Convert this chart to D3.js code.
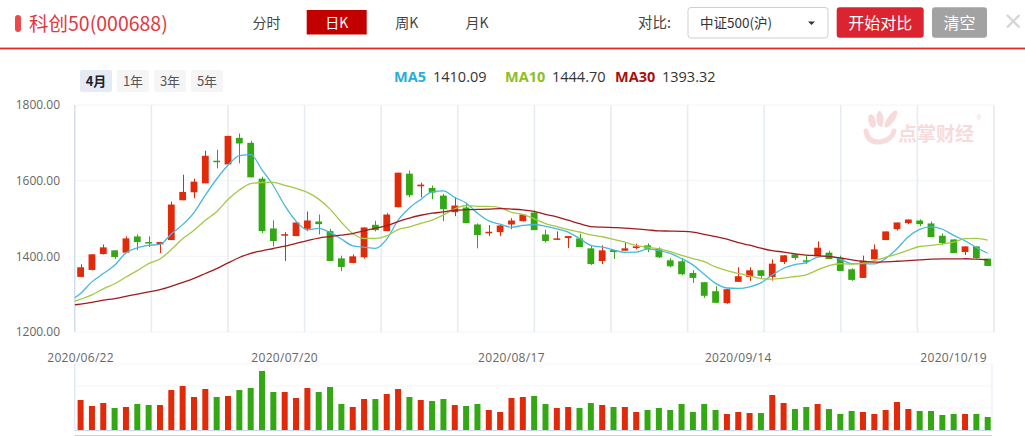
<!DOCTYPE html>
<html><head><meta charset="utf-8">
<script src="https://cdn.jsdelivr.net/npm/d3@7"></script>
<style>
html,body{margin:0;padding:0;background:#fff;overflow:hidden;}
svg{display:block;font-family:"Open Sans","Noto Sans CJK SC",sans-serif;}
.cjk{font-family:"Noto Sans CJK SC","Open Sans",sans-serif;}
</style></head><body>
<svg id="c" width="1025" height="436"></svg>
<script>
// ---------------- DATA ----------------
const dates = [
"2020/06/22","2020/06/23","2020/06/24","2020/06/29","2020/06/30",
"2020/07/01","2020/07/02","2020/07/03","2020/07/06","2020/07/07","2020/07/08","2020/07/09","2020/07/10",
"2020/07/13","2020/07/14","2020/07/15","2020/07/16","2020/07/17","2020/07/20","2020/07/21","2020/07/22",
"2020/07/23","2020/07/24","2020/07/27","2020/07/28","2020/07/29","2020/07/30","2020/07/31",
"2020/08/03","2020/08/04","2020/08/05","2020/08/06","2020/08/07","2020/08/10","2020/08/11","2020/08/12",
"2020/08/13","2020/08/14","2020/08/17","2020/08/18","2020/08/19","2020/08/20","2020/08/21","2020/08/24",
"2020/08/25","2020/08/26","2020/08/27","2020/08/28","2020/08/31",
"2020/09/01","2020/09/02","2020/09/03","2020/09/04","2020/09/07","2020/09/08","2020/09/09","2020/09/10",
"2020/09/11","2020/09/14","2020/09/15","2020/09/16","2020/09/17","2020/09/18","2020/09/21","2020/09/22",
"2020/09/23","2020/09/24","2020/09/25","2020/09/28","2020/09/29","2020/09/30",
"2020/10/09","2020/10/12","2020/10/13","2020/10/14","2020/10/15","2020/10/16","2020/10/19","2020/10/20",
"2020/10/21","2020/10/22"];

const open  = [1345.6,1364.0,1406.0,1415.8,1409.7,1452.6,1437.8,1431.6,1443.0,1548.3,1569.3,1593.0,1652.7,1643.0,1713.2,1700.0,1605.3,1473.7,1456.5,1453.5,1472.8,1492.1,1466.7,1394.7,1382.5,1397.4,1483.3,1466.7,1529.8,1618.4,1585.1,1580.7,1560.5,1516.7,1529.0,1484.2,1463.2,1464.0,1484.2,1493.0,1515.8,1457.9,1446.5,1448.3,1447.4,1421.1,1387.7,1416.7,1414.9,1421.9,1429.0,1420.2,1389.5,1386.9,1356.2,1331.6,1307.9,1276.3,1332.5,1345.6,1363.2,1345.6,1385.1,1405.3,1389.5,1400.0,1409.7,1396.5,1365.8,1343.0,1392.1,1443.0,1471.9,1487.7,1494.7,1486.9,1454.4,1444.7,1411.4,1426.3,1393.9];
const high  = [1379.0,1406.0,1431.5,1416.0,1452.7,1457.9,1452.7,1437.7,1544.7,1615.8,1605.3,1679.0,1681.6,1718.4,1724.6,1705.3,1610.5,1494.7,1464.0,1489.5,1518.4,1510.5,1472.8,1401.8,1405.3,1476.3,1493.9,1514.0,1621.1,1626.3,1594.7,1586.9,1564.9,1556.2,1540.4,1486.9,1482.5,1483.3,1500.9,1511.0,1521.1,1470.2,1465.8,1453.5,1459.7,1429.0,1429.0,1416.7,1437.7,1433.3,1434.2,1423.7,1394.8,1394.8,1363.2,1331.6,1321.1,1313.2,1371.1,1371.1,1363.2,1392.1,1402.7,1407.9,1402.7,1439.5,1414.9,1401.8,1368.4,1401.8,1431.6,1466.0,1489.5,1497.4,1497.4,1492.1,1460.5,1444.7,1426.3,1426.3,1393.9];
const low   = [1345.0,1363.0,1405.0,1393.0,1409.0,1416.7,1424.6,1408.8,1443.0,1548.0,1553.5,1593.0,1632.5,1643.0,1645.7,1608.8,1461.4,1426.3,1387.7,1453.5,1466.7,1458.0,1387.7,1360.5,1382.0,1393.9,1465.8,1466.7,1529.8,1556.2,1556.2,1550.9,1493.0,1506.1,1487.7,1421.1,1453.5,1453.5,1471.9,1492.0,1469.3,1436.8,1443.0,1421.9,1424.6,1377.2,1379.8,1393.0,1414.9,1419.3,1411.4,1395.6,1371.1,1350.0,1329.8,1290.4,1277.0,1274.6,1332.5,1335.1,1343.0,1336.0,1379.8,1390.4,1379.8,1400.0,1393.0,1361.4,1335.1,1343.0,1392.1,1443.0,1468.4,1485.1,1479.8,1450.9,1429.8,1408.8,1403.5,1393.9,1374.6];
const close = [1371.1,1405.3,1423.7,1398.3,1447.4,1437.7,1436.8,1437.7,1536.9,1570.2,1597.4,1665.8,1651.7,1718.4,1698.3,1608.8,1466.7,1440.4,1458.5,1489.5,1494.7,1485.1,1387.7,1371.9,1400.0,1476.3,1469.3,1510.5,1621.1,1561.4,1589.5,1568.4,1524.6,1534.2,1487.7,1456.2,1464.9,1481.6,1494.7,1510.5,1469.3,1440.4,1447.5,1453.5,1424.6,1379.8,1415.8,1411.4,1421.1,1426.3,1420.2,1397.4,1373.7,1352.7,1343.0,1295.7,1277.2,1313.2,1347.4,1363.2,1348.3,1380.7,1402.7,1395.6,1388.5,1422.8,1393.0,1361.4,1337.7,1388.6,1418.4,1465.8,1489.5,1497.4,1485.1,1450.9,1435.1,1408.8,1426.3,1395.6,1374.6];
// volume (relative units)
const volume = [90,72,81,66,69,78,75,75,120,132,99,123,99,102,120,126,177,114,114,96,126,114,129,78,69,93,93,108,123,99,90,87,93,75,72,78,60,54,96,99,102,78,66,69,66,81,75,69,69,54,60,66,60,78,54,78,60,48,54,51,51,105,81,63,69,78,63,48,57,54,48,60,84,63,57,57,45,48,48,48,39];
// closes of the 30 sessions before 2020/06/22 (oldest first), needed for the moving averages
const priorCloses = [1265,1262,1258,1266,1271,1259,1255,1267,1272,1264,1275,1281,1268,1262,1270,1277,1266,1259,1271,1274,1266,1290,1268,1262,1270,1268,1253,1314,1289,1283];

const maPeriods = [5,10,30];
const maNames   = ["MA5","MA10","MA30"];
const maLegendValues = ["1410.09","1444.70","1393.32"];
const priceTicks = [1200,1400,1600,1800];
const dateTicks  = ["2020/06/22","2020/07/20","2020/08/17","2020/09/14","2020/10/19"];

const tabs = ["分时","日K","周K","月K"];
const rangeButtons = ["4月","1年","3年","5年"];

// ---------------- LAYOUT ----------------
const svg = d3.select("#c");
const UP = "#e02a0a", DOWN = "#33a814";
const maColors = ["#46b8dc","#a3c944","#a01c1c"];
const maLegendColors = ["#2aaed6","#8cbf26","#a80f0f"];

const PL = 74.8, PR = 994, PT = 105, PB = 332;
const VT = 364, VB = 430;
const n = close.length;

const x = d3.scaleLinear().domain([0, n - 1]).range([80.6, 987.7]);
const bodyW = 6.8, volW = 6;
const y = d3.scaleLinear().domain([1200, 1800]).range([PB, PT]);
const yv = d3.scaleLinear().domain([0, 198]).range([VB, VT]);

// ---------------- HEADER ----------------
const hdr = svg.append("g");
hdr.append("rect").attr("x",15).attr("y",15).attr("width",6).attr("height",17).attr("rx",3).attr("fill","#ec4a4a");
hdr.append("text").attr("class","cjk").attr("x",29).attr("y",31).attr("font-size",19.5).attr("fill","#e2383f").text("科创50(000688)");

const tabX = [266.5, 336.7, 406.7, 477];
tabs.forEach((t,k) => {
  if (t === "日K") {
    hdr.append("rect").attr("x",306.7).attr("y",10).attr("width",60).attr("height",24.5).attr("fill","#c30000");
  }
  hdr.append("text").attr("class","cjk").attr("x",tabX[k]).attr("y",27.5).attr("text-anchor","middle")
    .attr("font-size",14).attr("fill", t === "日K" ? "#fff" : "#444").text(t);
});
hdr.append("rect").attr("x",0).attr("y",47.6).attr("width",1025).attr("height",1.8).attr("fill","#dd2a2a");

hdr.append("text").attr("class","cjk").attr("x",638).attr("y",28).attr("font-size",14.5).attr("fill","#444").text("对比:");
hdr.append("rect").attr("x",688).attr("y",7.5).attr("width",140).attr("height",30.5).attr("rx",3)
  .attr("fill","#fff").attr("stroke","#cfcfcf");
hdr.append("text").attr("class","cjk").attr("x",700).attr("y",27.5).attr("font-size",13.5).attr("fill","#333").text("中证500(沪)");
hdr.append("path").attr("d","M808,21.5 L815,21.5 L811.5,25 Z").attr("fill","#333");
hdr.append("rect").attr("x",836.7).attr("y",7.3).attr("width",87).attr("height",30.5).attr("rx",3).attr("fill","#dc2330");
hdr.append("text").attr("class","cjk").attr("x",880.2).attr("y",28.5).attr("text-anchor","middle").attr("font-size",16).attr("fill","#fff").text("开始对比");
hdr.append("rect").attr("x",932).attr("y",7.3).attr("width",55).attr("height",30.5).attr("rx",3).attr("fill","#a2a2a2");
hdr.append("text").attr("class","cjk").attr("x",959.5).attr("y",28.5).attr("text-anchor","middle").attr("font-size",16).attr("fill","#fff").text("清空");
hdr.append("path").attr("d","M1007,15 L1019.5,27.5 M1019.5,15 L1007,27.5").attr("stroke","#d4d4d4").attr("stroke-width",2.2);

// range buttons
const rbX = [80, 117, 154, 191];
rangeButtons.forEach((t,k) => {
  const sel = k === 0;
  svg.append("rect").attr("x",rbX[k]).attr("y",70).attr("width",32).attr("height",22).attr("rx",2)
    .attr("fill", sel ? "#e5eaf5" : "#f5f5f5");
  svg.append("text").attr("class","cjk").attr("x",rbX[k]+16).attr("y",86).attr("text-anchor","middle")
    .attr("font-size",13).attr("font-weight", sel ? "bold" : "normal").attr("fill", sel ? "#222" : "#555").text(t);
});

// legend
const legX = [394, 505, 615];
const legValX = [433, 552, 662];
maNames.forEach((nm,k) => {
  svg.append("text").attr("x",legX[k]).attr("y",82).attr("font-size",14.5).attr("font-weight","bold")
    .attr("fill",maLegendColors[k]).text(nm);
  svg.append("text").attr("x",legValX[k]).attr("y",82).attr("font-size",14.5)
    .attr("fill","#333").text(maLegendValues[k]);
});

// ---------------- PRICE PANEL ----------------
const grid = svg.append("g");
priceTicks.forEach(v => {
  grid.append("line").attr("x1",PL).attr("x2",PR).attr("y1",y(v)).attr("y2",y(v))
    .attr("stroke","#f2f4f7").attr("stroke-width",1);
});
d3.range(13).forEach(k => {
  const gx = PL + k*(PR-PL)/12;
  grid.append("line").attr("x1",gx).attr("x2",gx).attr("y1",PT).attr("y2",PB)
    .attr("stroke", k===0 ? "#c9d7ec" : "#e6ecf3").attr("stroke-width", k===0 ? 1.2 : 1.6);
});
priceTicks.forEach(v => {
  svg.append("text").attr("x",60).attr("y",y(v)).attr("dy","0.36em").attr("text-anchor","end")
    .attr("font-size",12).attr("fill","#666").text(v.toFixed(2));
});

// watermark
const wm = svg.append("g").attr("opacity",0.2);
wm.append("ellipse").attr("cx",872).attr("cy",121).attr("rx",3.5).attr("ry",7).attr("transform","rotate(-15,872,121)").attr("fill","#d94c4c");
wm.append("ellipse").attr("cx",880).attr("cy",119).attr("rx",3.5).attr("ry",8).attr("transform","rotate(-5,880,119)").attr("fill","#d94c4c");
wm.append("ellipse").attr("cx",891).attr("cy",119).attr("rx",3.5).attr("ry",10).attr("transform","rotate(35,891,119)").attr("fill","#d94c4c");
wm.append("path").attr("d","M866,131 Q868,143 880,142 Q892,140 894,131").attr("fill","none").attr("stroke","#d94c4c").attr("stroke-width",5).attr("stroke-linecap","round");
wm.append("text").attr("class","cjk").attr("x",898).attr("y",141).attr("font-size",19).attr("font-weight","bold").attr("fill","#d94c4c").text("点掌财经");
wm.append("text").attr("x",976).attr("y",120).attr("font-size",7).attr("fill","#d94c4c").text("®");

// candles
const cg = svg.append("g");
d3.range(n).forEach(i => {
  const up = close[i] >= open[i];
  const col = up ? UP : DOWN;
  const cx = Math.round(x(i)) + 0.5;
  cg.append("line").attr("x1",cx).attr("x2",cx).attr("y1",y(high[i])).attr("y2",y(low[i]))
    .attr("stroke",col).attr("stroke-width",1);
  const top = y(Math.max(open[i],close[i])), bot = y(Math.min(open[i],close[i]));
  cg.append("rect").attr("x",x(i)-bodyW/2).attr("y",top).attr("width",bodyW)
    .attr("height",Math.max(1.5,bot-top)).attr("fill",col);
});

// moving averages
svg.append("clipPath").attr("id","clip").append("rect").attr("x",PL).attr("y",PT).attr("width",PR-PL).attr("height",PB-PT);
const all = priorCloses.concat(close);
const P = priorCloses.length;
const lineGen = d3.line().x(d => x(d.i)).y(d => y(d.v)).curve(d3.curveMonotoneX);
maPeriods.forEach((p,k) => {
  const pts = [];
  for (let i = -1; i < n; i++) {
    const end = P + i;
    pts.push({i, v: d3.mean(all.slice(end - p + 1, end + 1))});
  }
  svg.append("path").attr("clip-path","url(#clip)").attr("d",lineGen(pts))
    .attr("fill","none").attr("stroke",maColors[k]).attr("stroke-width",1.3);
});

// date labels
dateTicks.forEach(d => {
  const i = dates.indexOf(d);
  svg.append("text").attr("x",x(i)).attr("y",358).attr("dy","0.35em").attr("text-anchor","middle")
    .attr("font-size",12).attr("letter-spacing",0.3).attr("fill","#666").text(d);
});

// ---------------- VOLUME PANEL ----------------
const vg = svg.append("g");
[1,2,3].forEach(k => {
  const gy = VB - k*(VB-VT)/3;
  vg.append("line").attr("x1",PL).attr("x2",992).attr("y1",gy).attr("y2",gy).attr("stroke","#f3f5f8");
});
vg.append("line").attr("x1",PL).attr("x2",PL).attr("y1",VT).attr("y2",VB).attr("stroke","#d3deef");
vg.append("line").attr("x1",992).attr("x2",992).attr("y1",VT).attr("y2",VB).attr("stroke","#e6ecf3");
d3.range(n).forEach(i => {
  const up = close[i] >= open[i];
  vg.append("rect").attr("x",x(i)-volW/2).attr("y",yv(volume[i])).attr("width",volW)
    .attr("height",VB-yv(volume[i])).attr("fill", up ? UP : DOWN);
});
vg.append("line").attr("x1",PL).attr("x2",992).attr("y1",VB+0.5).attr("y2",VB+0.5).attr("stroke","#c9d7ec");
vg.append("line").attr("x1",PL).attr("x2",992).attr("y1",435.5).attr("y2",435.5).attr("stroke","#cfcfcf");
</script>
</body></html>
